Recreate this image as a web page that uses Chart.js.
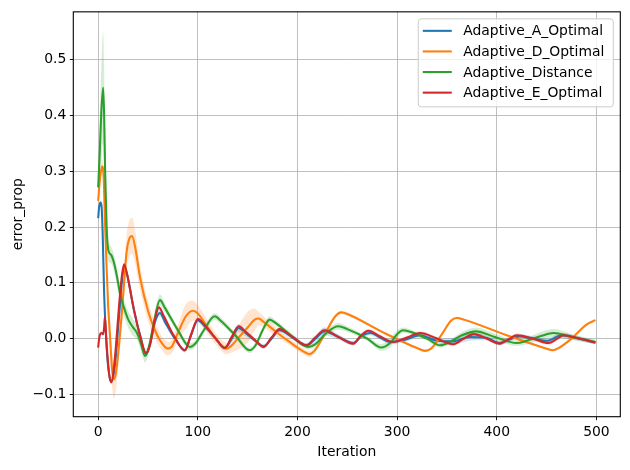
<!DOCTYPE html>
<html><head><meta charset="utf-8">
<script src="https://cdn.jsdelivr.net/npm/chart.js@4.4.0/dist/chart.umd.min.js"></script>
<style>html,body{margin:0;padding:0;background:#fff}#wrap{width:630px;height:470px;position:relative}</style>
</head><body><div id="wrap"><canvas id="c"></canvas></div>
<script>
const seriesNames = ['Adaptive_A_Optimal','Adaptive_D_Optimal','Adaptive_Distance','Adaptive_E_Optimal'];
const colors = ['#1f77b4','#ff7f0e','#2ca02c','#d62728'];
const xTicks = [0,100,200,300,400,500];
const yTicks = [-0.1,0,0.1,0.2,0.3,0.4,0.5];
const xTitle = 'Iteration';
const yTitle = 'error_prop';

// Adaptive_A_Optimal
const itA = [0,1,2.5,3.5,4.5,6,8,10,13.5,17, 21,24,26,29,36,43,48,52,57,62, 67,77,87,93,100,107,118,127,134,141, 148,157,166,174,182,195,209,218,227,241, 256,264,273,283,293,306,323,340,356,373, 388,403,412,423,437,450,465,482,499];
const valA = [0.216,0.236,0.244,0.235,0.19,0.08,0.0,-0.05,-0.077,-0.045, 0.04,0.105,0.127,0.115,0.05,0.0,-0.028,-0.01,0.03,0.046, 0.03,0.0,-0.021,0.005,0.033,0.022,0.0,-0.017,0.0,0.019, 0.01,-0.003,-0.014,0.0,0.015,0.002,-0.012,0.0,0.013,0.003, -0.008,0.004,0.010,0.002,-0.006,-0.003,0.006,-0.004,-0.005,0.003, 0.002,-0.008,-0.002,0.004,0.0,-0.004,0.006,0.0,-0.007];
const sdA = [0.004,0.004,0.004,0.004,0.005,0.005,0.005,0.005,0.005,0.005, 0.005,0.005,0.005,0.005,0.005,0.005,0.005,0.005,0.005,0.006, 0.005,0.004,0.004,0.004,0.004,0.004,0.004,0.004,0.006,0.007, 0.006,0.004,0.004,0.004,0.004,0.004,0.004,0.006,0.007,0.005, 0.004,0.004,0.004,0.004,0.004,0.004,0.004,0.004,0.006,0.007, 0.005,0.004,0.004,0.004,0.004,0.004,0.004,0.004,0.003];

// Adaptive_D_Optimal
const itD = [0,2,4,5.5,7,8.5,10,11.7,14,16, 18,21,23.5,26,28.5,31,34,37,42,50, 57,62,70,74,80,88,95,100,110,120, 129,133,140,150,157,161,166,180,192,205, 212,217,228,238,244,250,285,320,328,334, 345,354,360,367,410,450,456,462,475,490, 499];
const valD = [0.247,0.29,0.309,0.29,0.2,0.128,0.06,0.01,-0.055,-0.073, -0.06,-0.01,0.04,0.10,0.155,0.178,0.184,0.165,0.11,0.05, 0.015,-0.003,-0.018,-0.014,0.01,0.04,0.05,0.045,0.02,-0.005, -0.018,-0.014,0.0,0.02,0.034,0.036,0.03,0.01,-0.006,-0.022, -0.028,-0.022,0.01,0.04,0.047,0.044,0.012,-0.017,-0.022,-0.018, 0.008,0.032,0.037,0.034,0.006,-0.018,-0.021,-0.017,0.0,0.025, 0.033];
const sdD = [0.008,0.01,0.012,0.012,0.015,0.02,0.025,0.03,0.032,0.034, 0.03,0.025,0.025,0.028,0.03,0.032,0.033,0.03,0.022,0.018, 0.015,0.013,0.012,0.012,0.015,0.022,0.018,0.015,0.012,0.01, 0.01,0.012,0.02,0.028,0.02,0.012,0.01,0.008,0.006,0.005, 0.005,0.005,0.004,0.003,0.003,0.003,0.002,0.002,0.002,0.002, 0.002,0.002,0.002,0.002,0.002,0.002,0.002,0.002,0.002,0.002, 0.002];

// Adaptive_Distance
const itG = [0,1.5,3,5,6,7,8.5,10,13,16, 19,22,26,30,35,39,43,47,51,56, 62,67,80,92,98,106,117,123,138,152, 158,165,172,178,194,211,218,229,241,250, 270,284,293,300,306,314,330,343,352,365, 379,398,420,430,445,457,475,499];
const valG = [0.271,0.33,0.40,0.45,0.40,0.30,0.20,0.16,0.15,0.135, 0.11,0.08,0.055,0.035,0.02,0.01,-0.01,-0.031,-0.015,0.03, 0.069,0.055,0.015,-0.015,-0.008,0.015,0.04,0.032,0.005,-0.021, -0.012,0.015,0.034,0.028,0.005,-0.015,-0.01,0.01,0.022,0.017, 0.0,-0.016,-0.008,0.008,0.015,0.012,0.0,-0.012,-0.007,0.006, 0.013,0.003,-0.008,-0.004,0.005,0.01,0.003,-0.006];
const sdG = [0.02,0.05,0.08,0.10,0.09,0.05,0.03,0.02,0.015,0.015, 0.015,0.015,0.015,0.015,0.015,0.012,0.012,0.012,0.01,0.01, 0.01,0.008,0.006,0.006,0.006,0.006,0.006,0.006,0.005,0.005, 0.005,0.005,0.006,0.005,0.005,0.004,0.004,0.005,0.006,0.005, 0.004,0.006,0.008,0.007,0.005,0.004,0.004,0.004,0.004,0.006, 0.007,0.006,0.005,0.006,0.007,0.007,0.005,0.004];

// Adaptive_E_Optimal
const itE = [0,1,2,3.5,5,6,6.7,7.5,8.5,10, 11.5,13,15,18,21,24,26,28.5,35,42, 48,52,57,61,66,76,87,93,100,107, 118,127,134,141,148,157,166,174,182,195, 209,218,227,241,256,263,271,283,296,310, 323,340,356,366,377,390,403,412,420,436, 452,460,467,483,499];
const valE = [-0.016,0.0,0.008,0.010,0.008,0.02,0.038,0.02,-0.01,-0.045, -0.07,-0.078,-0.065,-0.01,0.06,0.115,0.133,0.12,0.06,0.005, -0.026,-0.012,0.035,0.056,0.04,0.005,-0.021,0.006,0.035,0.024, 0.0,-0.017,0.003,0.022,0.012,-0.002,-0.015,0.002,0.017,0.003, -0.012,0.002,0.015,0.003,-0.009,0.004,0.014,0.004,-0.006,0.002, 0.010,0.0,-0.010,-0.001,0.008,0.0,-0.009,-0.001,0.006,0.0, -0.008,-0.001,0.006,0.0,-0.007];
const sdE = [0.003,0.003,0.003,0.003,0.003,0.003,0.003,0.003,0.003,0.003, 0.003,0.003,0.003,0.003,0.003,0.003,0.003,0.003,0.003,0.003, 0.003,0.003,0.003,0.003,0.003,0.003,0.003,0.003,0.003,0.003, 0.003,0.003,0.003,0.003,0.003,0.003,0.003,0.003,0.003,0.003, 0.003,0.003,0.003,0.003,0.003,0.003,0.003,0.003,0.003,0.003, 0.003,0.003,0.003,0.003,0.003,0.003,0.003,0.003,0.003,0.003, 0.003,0.003,0.003,0.003,0.003];

const series = [
  {name: seriesNames[0], it: itA, v: valA, sd: sdA, color: colors[0]},
  {name: seriesNames[1], it: itD, v: valD, sd: sdD, color: colors[1]},
  {name: seriesNames[2], it: itG, v: valG, sd: sdG, color: colors[2]},
  {name: seriesNames[3], it: itE, v: valE, sd: sdE, color: colors[3]}
];

function rgba(hex, a) {
  const n = parseInt(hex.slice(1), 16);
  return `rgba(${(n>>16)&255},${(n>>8)&255},${n&255},${a})`;
}

const datasets = [];
series.forEach(s => {
  datasets.push({label: s.name + ' upper', data: s.it.map((x,k)=>({x, y: s.v[k] + s.sd[k]})),
    borderColor: 'rgba(0,0,0,0)', borderWidth: 0, pointRadius: 0, fill: false,
    cubicInterpolationMode: 'monotone', order: 20});
  datasets.push({label: s.name + ' lower', data: s.it.map((x,k)=>({x, y: s.v[k] - s.sd[k]})),
    borderColor: 'rgba(0,0,0,0)', borderWidth: 0, pointRadius: 0, fill: '-1',
    backgroundColor: rgba(s.color, 0.2), cubicInterpolationMode: 'monotone', order: 20});
});
series.forEach((s, i) => {
  datasets.push({label: s.name, isMain: true, data: s.it.map((x,k)=>({x, y: s.v[k]})),
    borderColor: s.color, backgroundColor: s.color, borderWidth: 2.08, pointRadius: 0, fill: false,
    cubicInterpolationMode: 'monotone', order: 4 - i});
});

const FONT = {family: '"DejaVu Sans", sans-serif', size: 13.9};

const spinePlugin = {
  id: 'spines',
  afterDatasetsDraw(chart) {
    const a = chart.chartArea, ctx = chart.ctx;
    ctx.save();
    ctx.strokeStyle = '#000';
    ctx.lineWidth = 1.1;
    ctx.strokeRect(a.left, a.top, a.right - a.left, a.bottom - a.top);
    ctx.restore();
  }
};

const legendPlugin = {
  id: 'mplLegend',
  afterDraw(chart) {
    const ctx = chart.ctx, a = chart.chartArea;
    const mains = chart.data.datasets.filter(d => d.isMain);
    ctx.save();
    ctx.font = '13.9px "DejaVu Sans", sans-serif';
    const tw = Math.max(...mains.map(d => ctx.measureText(d.label).width));
    const w = 45 + tw + 9, h = 88;
    const x0 = a.right - 7 - w, y0 = a.top + 7;
    ctx.beginPath();
    ctx.roundRect(x0, y0, w, h, 3);
    ctx.fillStyle = 'rgba(255,255,255,0.8)';
    ctx.fill();
    ctx.strokeStyle = '#cccccc';
    ctx.lineWidth = 1;
    ctx.stroke();
    mains.forEach((d, i) => {
      const cy = y0 + 12 + i * 20.6;
      ctx.beginPath();
      ctx.moveTo(x0 + 4.5, cy);
      ctx.lineTo(x0 + 33.5, cy);
      ctx.strokeStyle = d.borderColor;
      ctx.lineWidth = 2.08;
      ctx.stroke();
      ctx.fillStyle = '#000';
      ctx.textBaseline = 'middle';
      ctx.textAlign = 'left';
      ctx.fillText(d.label, x0 + 45, cy + 1);
    });
    ctx.restore();
  }
};

new Chart(document.getElementById('c'), {
  type: 'line',
  data: {datasets},
  plugins: [spinePlugin, legendPlugin],
  options: {
    responsive: true,
    maintainAspectRatio: false,
    animation: false,
    layout: {padding: {left: 0, right: 9.7, top: 10.3, bottom: 0}},
    plugins: {
      legend: {display: false},
      tooltip: {enabled: false},
      filler: {propagate: false, drawTime: 'beforeDatasetsDraw'}
    },
    scales: {
      x: {
        type: 'linear', min: -24.95, max: 523.95,
        afterBuildTicks: sc => { sc.ticks = xTicks.map(v => ({value: v})); },
        afterFit: sc => { sc.height = 53.3; },
        grid: {color: '#b0b0b0', lineWidth: 0.8, drawTicks: true, tickLength: 3.5, tickColor: '#000', tickWidth: 0.9},
        border: {display: false},
        ticks: {color: '#000', font: FONT, padding: 3.5, maxRotation: 0, autoSkip: false,
          callback: v => String(v)},
        title: {display: true, text: xTitle, color: '#000', font: FONT, padding: {top: 0, bottom: 9.7}}
      },
      y: {
        type: 'linear', min: -0.14, max: 0.5857,
        afterBuildTicks: sc => { sc.ticks = yTicks.map(v => ({value: v})); },
        afterFit: sc => { sc.width = 73.3; },
        grid: {color: '#b0b0b0', lineWidth: 0.8, drawTicks: true, tickLength: 3.5, tickColor: '#000', tickWidth: 0.9},
        border: {display: false},
        ticks: {color: '#000', font: FONT, padding: 3.5, autoSkip: false,
          callback: v => v < 0 ? '\u2212' + (-v).toFixed(1) : v.toFixed(1)},
        title: {display: true, text: yTitle, color: '#000', font: FONT, padding: {top: 10, bottom: 0}}
      }
    }
  }
});
</script>
</body></html>
